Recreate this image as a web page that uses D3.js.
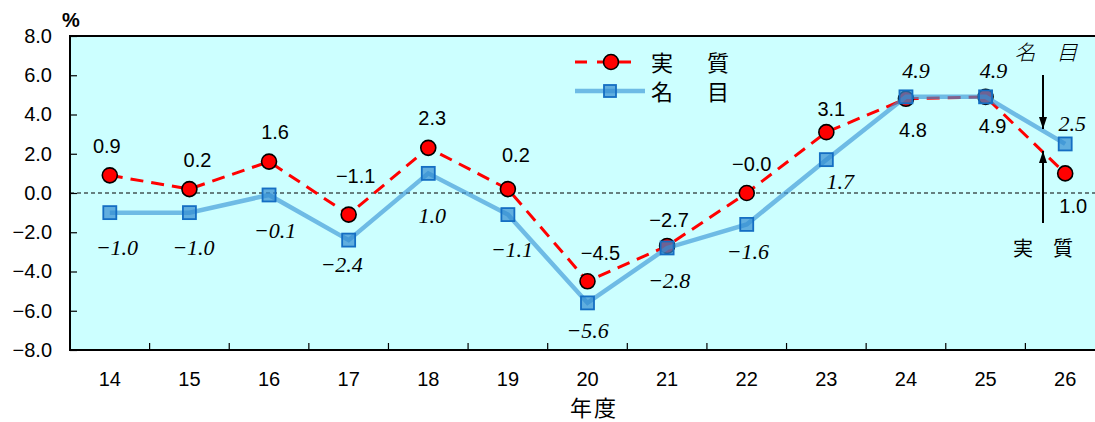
<!DOCTYPE html>
<html>
<head>
<meta charset="utf-8">
<script src="https://cdn.jsdelivr.net/npm/d3@7/dist/d3.min.js"></script>
<style>
  body { margin: 0; background: #fff; }
  svg { display: block; }
  text { fill: #000; }
</style>
</head>
<body>
<div id="chart"></div>
<script>
// fiscal years (平成)
const years = ["14","15","16","17","18","19","20","21","22","23","24","25","26"];
// 実質 (real) growth, %
const realVals = [0.9, 0.2, 1.6, -1.1, 2.3, 0.2, -4.5, -2.7, -0.0, 3.1, 4.8, 4.9, 1.0];
// 名目 (nominal) growth, %
const nomVals = [-1.0, -1.0, -0.1, -2.4, 1.0, -1.1, -5.6, -2.8, -1.6, 1.7, 4.9, 4.9, 2.5];
const yTicks = [-8, -6, -4, -2, 0, 2, 4, 6, 8];

// label placement relative to the point: [dx, dy of baseline]
const realLabelOff = [[-3,-22],[8,-22],[6,-23],[7,-32],[4,-23],[8,-27],[13,-21],[2,-19],[5,-22],[5,-16],[7,38],[7,36],[8,40]];
const nomLabelOff = [[7,42],[4,42],[6,43],[-7,32],[4,50],[4,42],[0,35],[2,40],[1,35],[14,29],[10,-19],[8,-19],[7,-13]];

const W = 1095, H = 422;
const pLeft = 70, pRight = 1105, pTop = 36, pBottom = 350;

const svg = d3.select("#chart").append("svg")
    .attr("width", W)
    .attr("height", H);

const x = d3.scaleBand().domain(years).range([pLeft, pRight]).padding(0);
const y = d3.scaleLinear().domain([-8, 8]).range([pBottom, pTop]);
const cx = d => x(d) + x.bandwidth() / 2;

// plot background
svg.append("rect")
    .attr("x", pLeft).attr("y", pTop)
    .attr("width", pRight - pLeft).attr("height", pBottom - pTop)
    .attr("fill", "#ccffff");

// zero line
svg.append("line")
    .attr("x1", pLeft).attr("x2", pRight)
    .attr("y1", y(0)).attr("y2", y(0))
    .attr("stroke", "#000").attr("stroke-width", 1.2)
    .attr("stroke-dasharray", "4,3");

// y axis, ticks inside
const yAxis = d3.axisLeft(y)
    .tickValues(yTicks)
    .tickFormat(d3.format(".1f"))
    .tickSizeInner(-7)
    .tickSizeOuter(0)
    .tickPadding(18);
const gy = svg.append("g")
    .attr("transform", "translate(" + pLeft + ",0)")
    .call(yAxis);
gy.select(".domain").remove();
gy.selectAll(".tick line").attr("stroke", "#000").attr("stroke-width", 1.2);
gy.selectAll(".tick text")
    .style("font-family", "'Liberation Sans', Arial, sans-serif")
    .style("font-size", "20px")
    .attr("fill", "#000");

// x axis: labels centered on bands, ticks at band edges
const xAxis = d3.axisBottom(x).tickSize(0).tickPadding(22);
const gx = svg.append("g")
    .attr("transform", "translate(0," + pBottom + ")")
    .call(xAxis);
gx.select(".domain").remove();
gx.selectAll(".tick text")
    .style("font-family", "'Liberation Sans', Arial, sans-serif")
    .style("font-size", "20px")
    .attr("fill", "#000");

svg.selectAll(".xtick")
    .data(years.slice(1))
    .enter().append("line")
    .attr("class", "xtick")
    .attr("x1", d => x(d)).attr("x2", d => x(d))
    .attr("y1", pBottom).attr("y2", pBottom - 7)
    .attr("stroke", "#000").attr("stroke-width", 1.2);

// frame (left, top, bottom)
svg.append("path")
    .attr("d", "M" + pRight + "," + pTop + "H" + pLeft + "V" + pBottom + "H" + pRight)
    .attr("fill", "none")
    .attr("stroke", "#000")
    .attr("stroke-width", 2);

// unit and axis title
svg.append("text")
    .attr("x", 71).attr("y", 27)
    .attr("text-anchor", "middle")
    .style("font-family", "'Liberation Sans', Arial, sans-serif")
    .style("font-size", "20px")
    .style("font-weight", "bold")
    .text("%");

svg.append("text")
    .attr("x", 594).attr("y", 415.5)
    .attr("text-anchor", "middle")
    .style("font-family", "'Noto Sans CJK JP', sans-serif")
    .style("font-size", "22px")
    .style("letter-spacing", "2px")
    .text("年度");

// real series (red dashed, circles)
const seriesLine = d3.line()
    .x((d, i) => cx(years[i]))
    .y(d => y(d));

svg.append("path")
    .datum(realVals)
    .attr("d", seriesLine)
    .attr("fill", "none")
    .attr("stroke", "#ff0000")
    .attr("stroke-width", 3)
    .attr("stroke-dasharray", "13,8");

svg.selectAll(".realpt")
    .data(realVals)
    .enter().append("circle")
    .attr("class", "realpt")
    .attr("cx", (d, i) => cx(years[i]))
    .attr("cy", d => y(d))
    .attr("r", 7.5)
    .attr("fill", "#ff0000")
    .attr("stroke", "#000")
    .attr("stroke-width", 1.6);

// nominal series (blue line, squares) on top, semi-transparent
const nomG = svg.append("g");
nomG.append("path")
    .datum(nomVals)
    .attr("d", seriesLine)
    .attr("fill", "none")
    .attr("stroke", "rgb(60,150,215)")
    .attr("stroke-opacity", 0.65)
    .attr("stroke-width", 4.5);

nomG.selectAll(".nompt")
    .data(nomVals)
    .enter().append("rect")
    .attr("class", "nompt")
    .attr("x", (d, i) => cx(years[i]) - 6.5)
    .attr("y", d => y(d) - 6.5)
    .attr("width", 13).attr("height", 13)
    .attr("fill", "rgb(50,140,210)")
    .attr("fill-opacity", 0.7)
    .attr("stroke", "rgb(20,110,195)")
    .attr("stroke-width", 1.8);

// value labels
const fmt = d3.format(".1f");
svg.selectAll(".reallab")
    .data(realVals)
    .enter().append("text")
    .attr("class", "reallab")
    .attr("x", (d, i) => cx(years[i]) + realLabelOff[i][0])
    .attr("y", (d, i) => y(d) + realLabelOff[i][1])
    .attr("text-anchor", "middle")
    .style("font-family", "'Liberation Sans', Arial, sans-serif")
    .style("font-size", "20px")
    .text(d => (Object.is(d, -0) ? "−" : "") + fmt(d));

svg.selectAll(".nomlab")
    .data(nomVals)
    .enter().append("text")
    .attr("class", "nomlab")
    .attr("x", (d, i) => cx(years[i]) + nomLabelOff[i][0])
    .attr("y", (d, i) => y(d) + nomLabelOff[i][1])
    .attr("text-anchor", "middle")
    .style("font-family", "'Liberation Serif', 'Times New Roman', serif")
    .style("font-style", "italic")
    .style("font-size", "22px")
    .attr("fill", "#222")
    .text(d => fmt(d));

// legend
const lg = svg.append("g");
lg.append("line")
    .attr("x1", 575).attr("x2", 632).attr("y1", 62).attr("y2", 62)
    .attr("stroke", "#ff0000").attr("stroke-width", 3)
    .attr("stroke-dasharray", "12,10");
lg.append("circle")
    .attr("cx", 611).attr("cy", 62).attr("r", 7.5)
    .attr("fill", "#ff0000").attr("stroke", "#000").attr("stroke-width", 1.6);
lg.append("line")
    .attr("x1", 575).attr("x2", 645).attr("y1", 91).attr("y2", 91)
    .attr("stroke", "rgb(60,150,215)").attr("stroke-opacity", 0.65)
    .attr("stroke-width", 4.5);
lg.append("rect")
    .attr("x", 604).attr("y", 85).attr("width", 12).attr("height", 12)
    .attr("fill", "rgb(50,140,210)").attr("fill-opacity", 0.7)
    .attr("stroke", "rgb(20,110,195)").attr("stroke-width", 1.8);
lg.selectAll(".lgtext")
    .data(["実　質", "名　目"])
    .enter().append("text")
    .attr("x", 651)
    .attr("y", (d, i) => 71 + i * 29)
    .style("font-family", "'Noto Sans CJK JP', sans-serif")
    .style("font-size", "22px")
    .style("letter-spacing", "6px")
    .text(d => d);

// right-hand annotations with arrows
svg.append("defs").append("marker")
    .attr("id", "arr")
    .attr("viewBox", "0 0 12 8")
    .attr("refX", 12).attr("refY", 4)
    .attr("markerWidth", 6).attr("markerHeight", 4)
    .attr("orient", "auto")
    .append("path")
    .attr("d", "M0,0L12,4L0,8Z")
    .attr("fill", "#000");

svg.append("line")
    .attr("x1", 1043).attr("x2", 1043).attr("y1", 75).attr("y2", 129)
    .attr("stroke", "#000").attr("stroke-width", 2)
    .attr("marker-end", "url(#arr)");
svg.append("line")
    .attr("x1", 1043).attr("x2", 1043).attr("y1", 223).attr("y2", 151)
    .attr("stroke", "#000").attr("stroke-width", 2)
    .attr("marker-end", "url(#arr)");

svg.append("text")
    .attr("transform", "translate(1046,60) skewX(-14)")
    .attr("text-anchor", "middle")
    .style("font-family", "'Noto Sans CJK JP', sans-serif")
    .style("font-weight", "300")
    .style("font-size", "21px")
    .attr("fill", "#222")
    .text("名　目");
svg.append("text")
    .attr("x", 1043).attr("y", 256)
    .attr("text-anchor", "middle")
    .style("font-family", "'Noto Sans CJK JP', sans-serif")
    .style("font-size", "20px")
    .text("実　質");
</script>
</body>
</html>
